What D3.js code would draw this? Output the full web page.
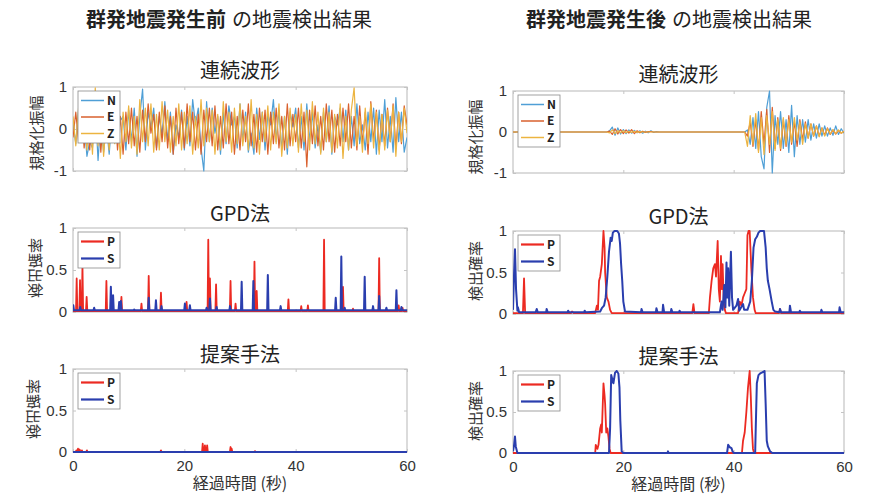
<!DOCTYPE html>
<html><head><meta charset="utf-8">
<script src="https://cdn.jsdelivr.net/npm/d3@7"></script>
<style>
html,body{margin:0;padding:0;background:#fff;}
svg{display:block;}
text{font-family:"Noto Sans CJK JP","Noto Sans",sans-serif;}
.tick text{font-family:"Liberation Sans",Arial,sans-serif;}
</style></head>
<body>
<svg id="chart" width="891" height="496"></svg>
<script>
// ---------------- DATA ----------------
const timeTicks = [0, 20, 40, 60];
const waveTicks = [-1, 0, 1];
const probTicks = [0, 0.5, 1];
const waveSeriesNames = ["N", "E", "Z"];
const probSeriesNames = ["P", "S"];
const sampleStep = 0.5; // seconds between waveform samples

// 群発地震発生前: continuous waveform (normalized), one value per 0.5 s
const waveBeforeN = [0.15,-0.35,0.45,-0.2,0.2,-0.65,-0.3,-0.45,0.55,-0.75,
 0.25,-0.55,0.1,-0.6,0.3,-0.25,0.6,0.2,0.3,-0.5,
 0.45,-0.3,0.5,-0.65,0.3,0.95,-0.5,0.4,0.05,0.5,
 -0.45,0.3,-0.15,0.65,-0.3,0.4,-0.6,0.1,-0.2,0.45,
 -0.5,0.3,-0.4,0.7,0.1,0.5,-0.45,-1.0,0.65,-0.3,
 0.5,-0.1,0.3,-0.6,0.4,-0.35,0.55,0.1,0.3,-0.45,
 0.6,-0.3,0.4,-0.55,-0.1,-0.6,0.5,-0.25,0.4,-0.5,
 0.35,0.1,0.7,-0.3,0.45,-0.5,0.3,-0.6,0.4,0.05,
 0.5,-0.45,0.3,-0.5,0.6,-0.3,0.4,-0.45,0.1,-0.55,
 0.4,-0.3,0.55,-0.6,0.3,0.1,0.5,-0.3,0.45,-0.5,
 0.3,-0.4,0.6,-0.35,0.1,-0.5,0.4,-0.3,0.5,-0.6,
 0.45,-0.3,0.7,-0.45,0.3,-0.55,0.75,-0.3,0.4,-0.55,
 -0.2];
const waveBeforeE = [-0.2,0.4,-0.3,0.5,-0.45,0.3,-0.5,0.55,-0.3,0.4,
 -0.55,0.35,0.1,0.6,-0.3,0.45,-0.5,0.3,-0.6,0.4,
 -0.35,0.5,-0.4,0.3,-0.55,0.45,-0.3,0.6,-0.1,0.35,
 -0.5,0.4,-0.3,0.55,-0.45,0.3,-0.6,0.5,-0.35,0.4,
 -0.45,0.6,-0.3,0.4,-0.5,0.35,-0.6,0.45,-0.3,0.5,
 -0.4,0.55,-0.5,0.3,-0.45,0.6,-0.35,0.4,-0.6,0.3,
 -0.5,0.45,-0.3,0.6,-0.4,0.35,-0.55,0.5,-0.3,0.45,
 -0.6,0.4,-0.35,0.5,-0.45,0.3,-0.5,0.6,-0.4,0.35,
 -0.3,0.5,-0.45,0.4,-0.9,0.45,-0.35,0.55,-0.4,0.3,
 -0.5,0.6,-0.3,0.45,-0.55,0.35,-0.4,0.5,-0.3,0.6,
 -0.45,0.3,-0.5,0.55,-0.35,0.4,-0.6,0.65,-0.3,0.45,
 -0.5,0.35,-0.4,0.5,-0.3,0.6,-0.45,0.4,-0.35,0.55,
 0.1];
const waveBeforeZ = [0.3,-0.4,0.5,-0.3,0.6,-0.5,0.4,-0.6,0.98,-0.4,
 0.5,-0.65,0.3,-0.5,0.6,-0.35,0.45,-0.7,0.4,-0.3,
 0.55,-0.45,0.3,-0.6,0.7,-0.3,0.5,-0.4,0.6,-0.55,
 0.35,-0.5,0.65,-0.3,0.45,-0.55,0.3,-0.4,0.6,-0.5,
 0.4,-0.35,0.55,-0.6,0.3,-0.45,0.7,-0.4,0.5,-0.3,
 0.45,-0.6,0.35,-0.5,0.65,-0.3,0.4,-0.55,0.5,-0.35,
 0.6,-0.4,0.3,-0.5,0.7,-0.45,0.35,-0.6,0.4,-0.3,
 0.55,-0.5,0.4,-0.35,0.6,-0.65,0.3,-0.45,0.5,-0.4,
 0.35,-0.55,0.6,-0.3,0.45,-0.5,0.65,-0.35,0.4,-0.6,
 0.5,-0.3,0.4,-0.55,0.35,-0.45,0.6,-0.7,0.3,-0.5,
 0.45,0.98,-0.4,0.3,-0.55,0.5,-0.35,0.6,-0.45,0.4,
 -0.6,0.35,-0.5,0.45,-0.3,0.55,-0.65,0.4,-0.3,0.5,
 -0.1];

// 群発地震発生後: continuous waveform
const waveAfterN = [0,0,0,0,0,0,0,0,0,0, 0,0,0,0,0,0,0,0,0,0, 0,0,0,0,0,0,0,0,0,0,
 0,0,0,0,0,0.03,0.12,-0.08,0.1,-0.05,
 0.06,-0.04,0.05,-0.03,0.04,-0.02,0.03,-0.03,0.02,-0.02,
 0.03,-0.01,0.01,0,0,0,0,0,0,0,
 0,0,0,0,0,0,0,0,0,0, 0,0,0,0,0,0,0,0,0,0,
 0,0,0,0,0,0.05,-0.3,0.35,-0.4,0.5,
 -0.6,-0.9,0.6,1.0,-1.0,0.4,-0.3,0.5,-0.4,0.3,
 -0.5,0.65,-0.6,0.4,-0.3,0.3,-0.25,0.3,-0.2,0.2,
 -0.15,0.2,-0.1,0.15,-0.1,0.1,-0.08,0.15,-0.06,0.08,
 -0.03];
const waveAfterE = [0,0,0,0,0,0,0,0,0,0, 0,0,0,0,0,0,0,0,0,0, 0,0,0,0,0,0,0,0,0,0,
 0,0,0,0,0,0.02,-0.06,0.08,-0.05,0.06,
 -0.04,0.05,-0.03,0.06,-0.04,0.03,-0.02,0.02,-0.01,0.01,
 0.01,0,0,0,0,0,0,0,0,0,
 0,0,0,0,0,0,0,0,0,0, 0,0,0,0,0,0,0,0,0,0,
 0,0,0,0,0,-0.1,0.25,-0.35,0.3,-0.45,
 0.5,-0.3,0.55,-0.5,0.6,-0.4,0.35,-0.45,0.3,-0.35,
 0.4,-0.3,0.25,-0.35,0.3,-0.2,0.25,-0.15,0.2,-0.1,
 0.15,-0.1,0.1,-0.08,0.1,-0.06,0.05,-0.05,0.04,-0.03,
 0.02];
const waveAfterZ = [0,0,0,0,0,0,0,0,0,0, 0,0,0,0,0,0,0,0,0,0, 0,0,0,0,0,0,0,0,0,0,
 0,0,0,0,0,-0.02,0.05,-0.04,0.03,-0.02,
 0.03,-0.02,0.02,-0.01,0.02,-0.01,0.01,0,0,0,
 0,0,0,0,0,0,0,0,0,0,
 0,0,0,0,0,0,0,0,0,0, 0,0,0,0,0,0,0,0,0,0,
 0,0,0,0,0,-0.35,0.4,-0.3,0.45,-0.5,
 0.35,-0.55,0.4,-0.3,0.5,-0.45,0.3,-0.4,0.35,-0.3,
 0.3,-0.25,0.35,-0.2,0.25,-0.3,0.2,-0.15,0.2,-0.1,
 0.15,-0.12,0.1,-0.1,0.08,-0.05,0.06,-0.04,0.05,-0.03,
 0.02];

// 発生前 GPD法: spikes [time (s), probability] on a low baseline
const gpdBeforeBaseP = 0.01, gpdBeforeBaseS = 0.02;
const gpdBeforeP = [[0.66,0.4],[1.26,0.38],[1.7,0.55],[2.45,0.18],[6.0,0.37],[8.7,0.18],[12.3,0.1],
 [13.6,0.43],[15.8,0.23],[20.4,0.12],[24.3,0.86],[24.6,0.4],[25.7,0.33],[28.3,0.37],[29.2,0.1],
 [32.6,0.6],[33.0,0.25],[38.7,0.15],[41.0,0.07],[42.2,0.08],[45.1,0.86],[48.5,0.3],[50.3,0.04],
 [55.0,0.64],[58.5,0.08],[59.2,0.05]];
const gpdBeforeS = [[0.06,0.08],[1.3,0.06],[3.8,0.05],[6.8,0.3],[7.2,0.2],[8.3,0.12],[8.6,0.13],
 [11.0,0.03],[13.6,0.17],[14.9,0.14],[15.9,0.07],[20.1,0.1],[21.0,0.08],[24.0,0.05],[24.6,0.16],
 [25.8,0.06],[28.2,0.07],[30.3,0.36],[32.4,0.37],[35.0,0.44],[37.3,0.07],[47.2,0.17],[48.2,0.66],
 [48.8,0.05],[52.4,0.42],[53.9,0.07],[55.0,0.19],[56.3,0.05],[58.1,0.26],[59.0,0.06]];

// 発生前 提案手法
const propBeforeBaseP = 0, propBeforeBaseS = 0;
const propBeforeP = [[0.6,0.02],[0.9,0.04],[1.2,0.03],[1.6,0.02],[2.5,0.02],[15.8,0.02],
 [23.3,0.1],[23.7,0.08],[24.1,0.08],[28.3,0.06],[28.5,0.04],[32.7,0.01]];
const propBeforeS = [];

// 発生後 GPD法: [time (s), probability]
const gpdAfterP = [[0,0.01],[1.8,0.01],[2.0,0.43],[2.2,0.01],
 [10.5,0.01],[10.7,0.03],[11,0.01],
 [14.9,0.01],[15.2,0.1],[15.4,0.05],[15.6,0.4],[15.8,0.45],[16.1,0.6],[16.4,1.0],[16.6,0.8],[16.7,0.5],[17.0,0.2],[17.3,0.15],[17.6,0.05],[17.9,0.01],
 [32.5,0.01],[32.7,0.12],[32.9,0.01],
 [35.5,0.01],[35.7,0.2],[36.0,0.4],[36.3,0.55],[36.6,0.6],[36.8,0.45],[37.1,0.88],[37.3,0.3],[37.5,0.15],[37.7,0.7],[37.85,0.3],[38.0,0.6],[38.2,0.15],[38.4,0.05],[38.6,0.01],
 [40.8,0.01],[41.1,0.15],[41.4,0.1],[41.7,0.2],[42.0,0.25],[42.3,0.3],[42.5,0.95],[42.7,1.0],[42.9,1.0],[43.2,0.55],[43.5,0.2],[43.8,0.05],[44,0.01],
 [48.2,0.01],[48.4,0.06],[48.6,0.01],[60,0.01]];
const gpdAfterS = [[0,0.05],[0.2,0.5],[0.36,0.78],[0.55,0.3],[0.8,0.04],[0.9,0.08],[1.1,0.02],
 [4.1,0.02],[4.3,0.06],[4.5,0.02],[6.0,0.02],[6.1,0.06],[6.3,0.02],
 [9.9,0.02],[10.0,0.04],[10.2,0.02],[12.9,0.02],[13.0,0.04],[13.2,0.02],
 [15.8,0.03],[16.1,0.07],[16.5,0.1],[16.8,0.2],[17.1,0.45],[17.4,0.75],[17.7,0.92],[17.9,0.88],[18.1,0.98],[18.4,1.0],[18.9,1.0],[19.2,0.97],[19.4,0.85],[19.6,0.6],[19.8,0.4],[20.0,0.15],[20.3,0.03],
 [23.2,0.02],[23.3,0.06],[23.5,0.02],[25.9,0.02],[26.0,0.07],[26.2,0.02],
 [27.1,0.02],[27.2,0.11],[27.4,0.02],[28.6,0.02],[28.7,0.06],[28.9,0.02],
 [30.1,0.02],[30.2,0.04],[30.4,0.02],
 [37.5,0.02],[37.8,0.15],[38.0,0.05],[38.3,0.35],[38.5,0.08],[38.7,0.62],[38.85,0.2],[39.0,0.55],[39.2,0.1],[39.5,0.75],[39.7,0.2],[39.9,0.05],[40.5,0.1],[40.8,0.18],[41.0,0.04],[41.7,0.12],[41.9,0.05],[42.5,0.05],
 [43.0,0.15],[43.3,0.4],[43.6,0.8],[43.9,0.9],[44.2,0.93],[44.5,0.98],[44.8,1.0],[45.5,1.0],[45.8,0.8],[46.0,0.55],[46.2,0.4],[46.5,0.3],[46.9,0.15],[47.2,0.05],[47.5,0.03],
 [48.3,0.02],[48.4,0.06],[48.6,0.02],[50.1,0.02],[50.2,0.1],[50.4,0.02],
 [51.9,0.02],[52.0,0.04],[52.2,0.02],[55.8,0.02],[55.9,0.05],[56.1,0.02],
 [59.1,0.02],[59.2,0.08],[59.4,0.02],[60,0.02]];

// 発生後 提案手法
const propAfterP = [[0,0],[14.9,0],[15.0,0.1],[15.3,0.05],[15.5,0.1],[15.8,0.3],[16.0,0.35],[16.1,0.25],[16.4,0.85],[16.6,0.7],[16.7,0.6],[16.9,0.25],[17.1,0.3],[17.3,0.2],[17.5,0.05],[17.7,0],
 [41.5,0],[41.7,0.15],[42.0,0.25],[42.3,0.5],[42.6,0.8],[42.9,1.0],[43.1,0.7],[43.3,0.3],[43.5,0.05],[43.7,0],[60,0]];
const propAfterS = [[0,0.02],[0.2,0.1],[0.36,0.2],[0.5,0.08],[0.8,0],
 [17.4,0],[17.6,0.3],[17.8,0.95],[18.0,0.9],[18.2,0.85],[18.5,0.98],[18.8,1.0],[19.1,0.97],[19.3,0.8],[19.45,0.4],[19.7,0.02],[20,0],
 [28,0],[28.1,0.02],[28.2,0],
 [38.8,0],[39.0,0.1],[39.3,0.07],[39.6,0.06],[39.8,0.02],[40,0],
 [43.9,0],[44.0,0.3],[44.2,0.85],[44.5,0.95],[44.8,0.97],[45.1,0.98],[45.6,1.0],[45.8,0.6],[46.0,0.15],[46.2,0.08],[46.6,0.02],[47,0],[60,0]];

// ---------------- STYLE / LAYOUT ----------------
const waveColors = {N: "#4f9fd6", E: "#d9602e", Z: "#ecb440"};
const probColors = {P: "#ec2a22", S: "#2a3eae"};
const frameColor = "#c4c4c4";
const textColor = "#333";

const svg = d3.select("#chart");

function spikesToPoints(spikes, base) {
  const pts = [[0, base]];
  spikes.forEach(([t, h]) => { pts.push([t - 0.12, base], [t, h], [t + 0.12, base]); });
  pts.push([60, base]);
  pts.sort((a, b) => a[0] - b[0]);
  return pts;
}
function waveToPoints(vals) { return vals.map((v, i) => [i * sampleStep, v]); }

function drawPanel(cfg) {
  const x = d3.scaleLinear().domain([0, 60]).range([cfg.x0, cfg.x1]);
  const y = d3.scaleLinear().domain(cfg.domain).range([cfg.y1, cfg.y0]);
  const g = svg.append("g");

  g.append("rect").attr("x", cfg.x0).attr("y", cfg.y0)
    .attr("width", cfg.x1 - cfg.x0).attr("height", cfg.y1 - cfg.y0)
    .attr("fill", "#fff").attr("stroke", frameColor).attr("stroke-width", 1.2);

  const ya = g.append("g").attr("transform", `translate(${cfg.x0},0)`)
    .call(d3.axisLeft(y).tickValues(cfg.yTicks).tickFormat(d => String(d)).tickSizeInner(-3).tickSizeOuter(0).tickPadding(6));
  ya.select(".domain").remove();
  ya.selectAll("line").attr("stroke", frameColor);
  ya.selectAll("text").attr("font-size", 15).attr("fill", textColor);
  const yr = g.append("g").attr("transform", `translate(${cfg.x1},0)`)
    .call(d3.axisRight(y).tickValues(cfg.yTicks).tickSizeInner(-3).tickSizeOuter(0).tickFormat(""));
  yr.select(".domain").remove(); yr.selectAll("line").attr("stroke", frameColor);

  const xb = g.append("g").attr("transform", `translate(0,${cfg.y1})`)
    .call(d3.axisBottom(x).tickValues(timeTicks).tickSizeInner(-3).tickSizeOuter(0).tickPadding(8)
      .tickFormat(cfg.showX ? (d => String(d)) : ""));
  xb.select(".domain").remove(); xb.selectAll("line").attr("stroke", frameColor);
  xb.selectAll("text").attr("font-size", 15).attr("fill", textColor);
  const xt = g.append("g").attr("transform", `translate(0,${cfg.y0})`)
    .call(d3.axisTop(x).tickValues(timeTicks).tickSizeInner(-3).tickSizeOuter(0).tickFormat(""));
  xt.select(".domain").remove(); xt.selectAll("line").attr("stroke", frameColor);

  const cid = "clip" + cfg.id;
  svg.append("clipPath").attr("id", cid).append("rect")
    .attr("x", cfg.x0).attr("y", cfg.y0 - 1).attr("width", cfg.x1 - cfg.x0).attr("height", cfg.y1 - cfg.y0 + 2);
  const line = d3.line().x(d => x(d[0])).y(d => y(d[1]));
  const lg = g.append("g").attr("clip-path", `url(#${cid})`);
  cfg.series.forEach(s => {
    lg.append("path").datum(s.points).attr("d", line)
      .attr("fill", "none").attr("stroke", s.color).attr("stroke-width", s.width)
      .attr("stroke-linejoin", "round");
  });

  g.append("text").attr("x", (cfg.x0 + cfg.x1) / 2).attr("y", cfg.titleY)
    .attr("text-anchor", "middle").attr("font-size", 20).attr("fill", "#222")
    .text(cfg.title);

  g.append("text").attr("text-anchor", "middle").attr("font-size", 15).attr("fill", textColor)
    .attr("dominant-baseline", "central")
    .attr("transform", `translate(${cfg.ylabelX},${cfg.ylabelY}) rotate(-90)` + (cfg.mirrorY ? " scale(1,-1)" : ""))
    .text(cfg.ylabel);

  if (cfg.showX) {
    g.append("text").attr("x", (cfg.x0 + cfg.x1) / 2).attr("y", cfg.y1 + 37)
      .attr("text-anchor", "middle").attr("font-size", 16).attr("fill", textColor)
      .text("経過時間 (秒)");
  }

  const n = cfg.legend.length;
  const lx = cfg.x0 + 5, ly = cfg.y0 + 4;
  const rowH = n === 3 ? 16.5 : 17;
  const lh = n === 3 ? 52 : 36;
  const lw = 42;
  const leg = g.append("g");
  leg.append("rect").attr("x", lx).attr("y", ly).attr("width", lw).attr("height", lh)
    .attr("fill", "#fff").attr("stroke", "#8a8a8a").attr("stroke-width", 0.8);
  cfg.legend.forEach((it, i) => {
    const yy = ly + 9.5 + i * rowH;
    leg.append("line").attr("x1", lx + 3).attr("x2", lx + 26).attr("y1", yy).attr("y2", yy)
      .attr("stroke", it.color).attr("stroke-width", n === 3 ? 1.5 : 2.2);
    leg.append("text").attr("x", lx + 29).attr("y", yy + 4.3)
      .attr("font-family", "Liberation Sans, Arial, sans-serif")
      .attr("font-size", 12).attr("font-weight", "bold").attr("fill", "#222").text(it.name);
  });
}

function wavePanel(id, x0, x1, y0, y1, N, E, Z, ylabelX) {
  drawPanel({
    id, x0, x1, y0, y1, domain: [-1, 1], yTicks: waveTicks, showX: false,
    title: "連続波形", titleY: y0 - 9, ylabel: "規格化振幅", ylabelX, ylabelY: y0 + 46,
    series: [
      {points: waveToPoints(N), color: waveColors.N, width: 1.2},
      {points: waveToPoints(E), color: waveColors.E, width: 1.2},
      {points: waveToPoints(Z), color: waveColors.Z, width: 1.2}],
    legend: waveSeriesNames.map(nm => ({name: nm, color: waveColors[nm]}))
  });
}
function probPanel(id, x0, x1, y0, y1, P, S, title, showX, ylabelX, mirrorY) {
  drawPanel({
    id, x0, x1, y0, y1, domain: [0, 1], yTicks: probTicks, showX,
    title, titleY: y0 - 7, ylabel: "検出確率", ylabelX, ylabelY: y0 + 40, mirrorY,
    series: [
      {points: P, color: probColors.P, width: 1.8},
      {points: S, color: probColors.S, width: 2}],
    legend: probSeriesNames.map(nm => ({name: nm, color: probColors[nm]}))
  });
}

function mainTitle(cx, bold, rest) {
  const t = svg.append("text").attr("x", cx).attr("y", 27).attr("text-anchor", "middle")
    .attr("font-size", 20).attr("fill", "#222");
  t.append("tspan").attr("font-weight", "bold").text(bold);
  t.append("tspan").attr("dx", 6).text(rest);
}
mainTitle(229, "群発地震発生前", "の地震検出結果");
mainTitle(669, "群発地震発生後", "の地震検出結果");

wavePanel("wb", 73, 407, 87, 171, waveBeforeN, waveBeforeE, waveBeforeZ, 35);
wavePanel("wa", 513, 844, 91, 173, waveAfterN, waveAfterE, waveAfterZ, 474);

probPanel("gb", 73, 407, 228, 312, spikesToPoints(gpdBeforeP, gpdBeforeBaseP), spikesToPoints(gpdBeforeS, gpdBeforeBaseS), "GPD法", false, 36, true);
probPanel("ga", 513, 844, 231, 314, gpdAfterP, gpdAfterS, "GPD法", false, 474, false);

probPanel("pb", 73, 407, 369, 452, spikesToPoints(propBeforeP, propBeforeBaseP), spikesToPoints(propBeforeS, propBeforeBaseS), "提案手法", true, 34, true);
probPanel("pa", 513, 844, 371, 453, propAfterP, propAfterS, "提案手法", true, 474, false);
</script>
</body></html>
